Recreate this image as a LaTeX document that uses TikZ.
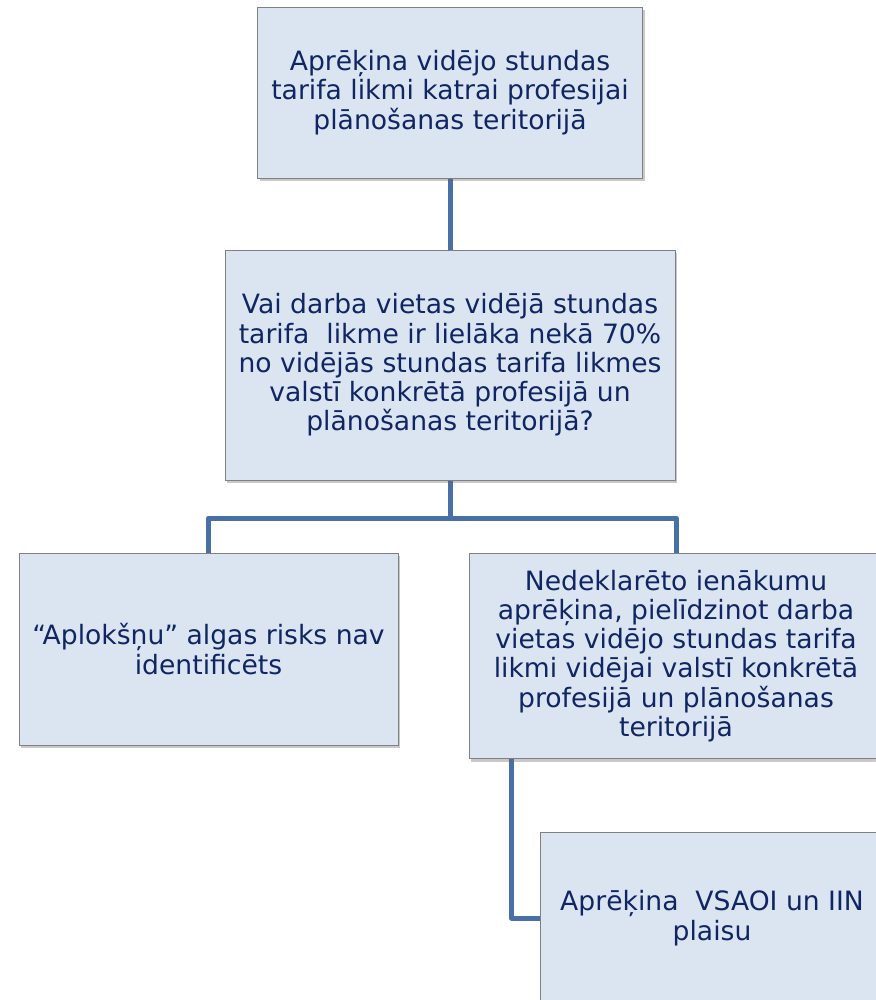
\documentclass[tikz,border=0pt]{standalone}
\usepackage{fontspec}
\setmainfont{DejaVu Sans}
\usetikzlibrary{shadows,backgrounds,calc}
\definecolor{boxfill}{RGB}{219,229,241}
\definecolor{boxline}{RGB}{128,128,128}
\definecolor{txt}{RGB}{16,37,99}
\definecolor{conn}{RGB}{72,112,166}
\tikzset{
  flowbox/.style={draw=boxline, line width=0.8pt, fill=boxfill, text=txt,
    align=center, inner sep=0pt, font=\fontsize{26.6}{29.3}\selectfont,
    drop shadow={shadow xshift=2pt, shadow yshift=-3pt, opacity=0.35, fill=black!60}},
  link/.style={draw=conn, line width=5pt, line join=round}
}
\begin{document}
\begin{tikzpicture}[x=1pt,y=-1pt]
\useasboundingbox (0,0) rectangle (875,1000);
\node[flowbox, minimum width=385pt, minimum height=171pt] (b1) at (450,92.5)
  {Aprēķina vidējo stundas\\tarifa likmi katrai profesijai\\plānošanas teritorijā};
\node[flowbox, minimum width=450pt, minimum height=230pt] (b2) at (450,365)
  {Vai darba vietas vidējā stundas\\tarifa~~likme ir lielāka nekā 70\%\\no vidējās stundas tarifa likmes\\valstī konkrētā profesijā un\\plānošanas teritorijā?};
\node[flowbox, minimum width=379pt, minimum height=192pt] (b3) at (208.5,649)
  {“Aplokšņu” algas risks nav\\identificēts};
\node[flowbox, minimum width=414pt, minimum height=205pt] (b4) at (676,656)
  {Nedeklarēto ienākumu\\aprēķina, pielīdzinot darba\\vietas vidējo stundas tarifa\\likmi vidējai valstī konkrētā\\profesijā un plānošanas\\teritorijā};
\node[flowbox, minimum width=344pt, minimum height=172pt] (b5) at (712,918)
  {Aprēķina~~VSAOI un IIN\\plaisu};
\coordinate (j) at (450,518);
\coordinate (k) at ($(b4.south west)+(43,0)$);
\begin{scope}[on background layer]
\fill[white] (0,0) rectangle (875,1000);
\draw[link] (b1.south) -- (b2.north);
\draw[link] (b2.south) -- (j);
\draw[link] (b3.north) |- (j) -| (b4.north);
\draw[link] (k) |- (b5.west);
\end{scope}
\end{tikzpicture}
\end{document}
